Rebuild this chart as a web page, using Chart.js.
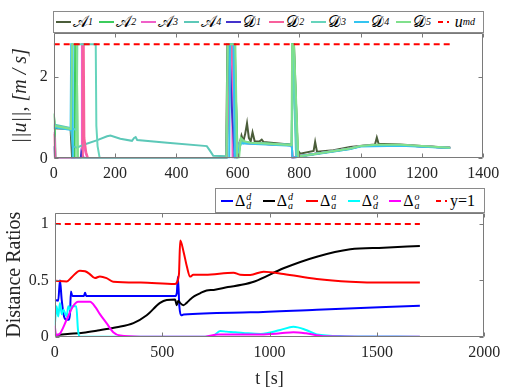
<!DOCTYPE html>
<html>
<head>
<meta charset="utf-8">
<script src="https://cdn.jsdelivr.net/npm/chart.js@4.4.1/dist/chart.umd.min.js"></script>
<style>
  body { margin: 0; background: #fff; }
  #wrap { position: relative; width: 509px; height: 388px; overflow: hidden; font-family: 'Liberation Serif', serif; }
  #c1 { position: absolute; left: 0; top: 0; }
  #c2 { position: absolute; left: 0; top: 190px; }
  .leg { position: absolute; background: #fff; border: 1px solid #8a8a8a; box-sizing: border-box; }
  .it { position: absolute; top: 0; height: 100%; display: flex; align-items: center; font-size: 15px; color: #000; white-space: nowrap; }
  .sw { display: inline-block; height: 2px; margin-right: 2px; }
  .it sub { font-size: 10px; vertical-align: -3px; font-style: italic; }
  .dl { display: inline-flex; align-items: center; font-size: 16px; }
  .ss { display: inline-flex; flex-direction: column; font-size: 10px; line-height: 9px; font-style: italic; margin-left: 1px; }
</style>
</head>
<body>
<div id="wrap">
  <canvas id="c1" width="509" height="190"></canvas>
  <canvas id="c2" width="509" height="198"></canvas>
  <div class="leg" id="leg1" style="left:52.7px; top:10.7px; width:431px; height:22.6px;"></div>
  <div class="leg" id="leg2" style="left:215px; top:188.3px; width:270px; height:24.7px;"></div>
</div>
<script>
// ---- haut : vitesses ||u|| ----
const tA1 = [0, 55, 60, 562, 566, 590, 598, 606, 612, 618, 624, 630, 636, 642, 648, 655, 670, 678, 684, 700, 776, 778, 783, 795, 803, 847, 852, 858, 912, 966, 1021, 1047, 1053, 1059, 1075, 1129, 1200, 1292];
const uA1 = [0.74, 0.72, 0, 0, 2.8, 2.8, 0.1, 0.36, 0.56, 0.42, 0.6, 0.86, 0.5, 0.42, 0.64, 0.42, 0.41, 0.46, 0.4, 0.39, 0.33, 2.8, 2.8, 0.2, 0.115, 0.18, 0.4, 0.16, 0.2, 0.28, 0.32, 0.34, 0.51, 0.35, 0.35, 0.34, 0.3, 0.26];
const tA2 = [0, 3, 6, 68, 70, 75, 78, 563, 574, 588, 600, 610, 640, 776, 778, 782, 796, 800, 966, 1000, 1130, 1292];
const uA2 = [1.1, 0.9, 0, 0, 2.8, 2.8, 0, 0, 2.8, 2.8, 0, 0.42, 0.38, 0.33, 2.8, 2.8, 0.05, 0.05, 0.24, 0.3, 0.32, 0.26];
const tA3 = [0, 3, 6, 90, 92, 95, 97, 100, 105, 110, 563, 571, 580, 583, 606, 640, 776, 778, 800, 966, 1000, 1130, 1292];
const uA3 = [0.65, 0.5, 0, 0, 2.8, 2.8, 0.4, 0.25, 0.1, 0, 0, 2.8, 2.8, 0, 0.38, 0.37, 0.32, 0, 0.05, 0.24, 0.3, 0.32, 0.26];
const tA4 = [0, 56, 62, 75, 100, 140, 174, 185, 217, 255, 262, 267, 272, 370, 499, 508, 520, 565, 569, 589, 596, 606, 640, 776, 778, 790, 800, 966, 1000, 1130, 1292];
const uA4 = [0.83, 0.74, 0.3, 0.26, 0.34, 0.44, 0.54, 0.56, 0.48, 0.43, 0.5, 0.52, 0.45, 0.38, 0.3, 0.2, 0.06, 0.05, 2.8, 2.8, 0, 0.38, 0.37, 0.32, 2.8, 0.03, 0.04, 0.23, 0.3, 0.32, 0.25];
const tD1 = [0, 4, 88, 90, 95, 100, 563, 572, 580, 584, 590, 606, 640, 776, 778, 800, 966, 1000, 1130, 1292];
const uD1 = [0.3, 0, 0, 0.15, 0.05, 0, 0, 2.8, 1.3, 0.8, 0, 0.38, 0.37, 0.32, 0, 0.05, 0.24, 0.3, 0.32, 0.26];
const tD2 = [0, 4, 93, 95, 98, 100, 106, 112, 563, 578, 582, 593, 598, 606, 640, 776, 778, 800, 966, 1000, 1130, 1292];
const uD2 = [0.6, 0, 0, 2.8, 2.8, 0.5, 0.15, 0, 0, 2.8, 2.8, 0.4, 0, 0.38, 0.37, 0.32, 0, 0.05, 0.24, 0.3, 0.32, 0.26];
const tD3 = [0, 56, 75, 77, 137, 139, 143, 150, 563, 568, 588, 595, 606, 640, 776, 778, 792, 800, 966, 1000, 1130, 1292];
const uD3 = [0.8, 0.73, 0.7, 2.8, 2.8, 0.8, 0.3, 0, 0, 2.8, 2.8, 0, 0.4, 0.38, 0.33, 2.8, 0.03, 0.05, 0.24, 0.3, 0.32, 0.26];
const tD4 = [0, 55, 57, 60, 62, 572, 575, 586, 590, 596, 610, 640, 776, 778, 800, 966, 1000, 1130, 1292];
const uD4 = [0.76, 0.7, 2.8, 2.8, 0, 0, 2.8, 2.8, 0, 0, 0.37, 0.36, 0.31, 0, 0.05, 0.23, 0.29, 0.31, 0.25];
const tD5 = [0, 56, 60, 75, 78, 563, 567, 592, 598, 604, 610, 620, 640, 700, 775, 777, 783, 797, 803, 966, 1000, 1050, 1130, 1200, 1292];
const uD5 = [0.8, 0.72, 2.8, 2.8, 0, 0, 2.8, 2.8, 0, 0, 0.5, 0.42, 0.38, 0.36, 0.32, 2.8, 2.8, 0.05, 0.05, 0.24, 0.3, 0.33, 0.33, 0.3, 0.26];
const tUmd = [0, 1300];
const uUmd = [2.8, 2.8];

// ---- bas : ratios de distance ----
const tDdd = [0, 16, 24, 32, 43, 55, 63, 71, 75, 82, 135, 141, 147, 560, 568, 573, 580, 588, 600, 910, 1220, 1700];
const rDdd = [0.326, 0.32, 0.5, 0.33, 0.18, 0.15, 0.15, 0.21, 0.4, 0.36, 0.36, 0.39, 0.36, 0.36, 0.385, 0.53, 0.27, 0.19, 0.196, 0.216, 0.24, 0.275];
const tDad = [0, 60, 132, 200, 288, 366, 428, 490, 521, 560, 568, 575, 583, 599, 614, 630, 650, 676, 707, 740, 806, 870, 930, 1065, 1220, 1376, 1531, 1700];
const rDad = [0.015, 0.025, 0.036, 0.055, 0.083, 0.12, 0.19, 0.3, 0.326, 0.33, 0.28, 0.32, 0.3, 0.28, 0.3, 0.33, 0.36, 0.385, 0.41, 0.415, 0.44, 0.46, 0.49, 0.607, 0.71, 0.776, 0.79, 0.805];
const tDaa = [0, 55, 80, 117, 141, 160, 187, 210, 241, 272, 400, 560, 578, 584, 600, 615, 630, 645, 700, 832, 863, 910, 972, 1065, 1220, 1376, 1531, 1700];
const rDaa = [0.497, 0.49, 0.53, 0.586, 0.58, 0.56, 0.52, 0.535, 0.52, 0.488, 0.48, 0.468, 0.55, 0.853, 0.75, 0.622, 0.533, 0.55, 0.55, 0.568, 0.55, 0.548, 0.577, 0.557, 0.512, 0.488, 0.48, 0.48];
const tDdo = [0, 8, 16, 24, 32, 40, 55, 63, 71, 78, 100, 108, 116, 700, 740, 770, 800, 840, 900, 960, 1050, 1111, 1170, 1220, 1350, 1700];
const rDdo = [0.1, 0.27, 0.18, 0.3, 0.2, 0.24, 0.18, 0.27, 0.24, 0.27, 0.27, 0.06, 0, 0, 0.01, 0.05, 0.045, 0.04, 0.03, 0.025, 0.06, 0.088, 0.06, 0.02, 0.005, 0];
const tDao = [0, 4, 8, 20, 55, 85, 109, 164, 190, 210, 241, 272, 304, 400, 700, 760, 830, 960, 1050, 1111, 1170, 1250, 1700];
const rDao = [0.1, 0.03, 0.015, 0.02, 0.15, 0.27, 0.31, 0.31, 0.26, 0.2, 0.12, 0.04, 0.01, 0, 0, 0.02, 0.02, 0.02, 0.03, 0.04, 0.03, 0.005, 0];
const tRef = [0, 1700];
const rRef = [1, 1];

const xTicks1 = { min: 0, max: 1400, step: 200 };
const xTicks2 = { min: 0, max: 2000, step: 500 };

const pts = (t, v) => t.map((x, i) => ({ x: x, y: v[i] }));
const SERIF = "'Liberation Serif', serif";
const ink = '#262626';

// cadre + graduations intérieures sur les quatre côtés
const frame = {
  id: 'frame',
  afterDatasetsDraw(chart) {
    const { ctx, chartArea: a, scales } = chart;
    const L = Math.round(a.left) + 0.5, R = Math.round(a.right) - 0.5;
    const T = Math.round(a.top) + 0.5, B = Math.round(a.bottom) - 0.5;
    ctx.save();
    ctx.strokeStyle = '#7a7a7a';
    ctx.lineWidth = 1;
    ctx.beginPath();
    ctx.rect(L, T, R - L, B - T);
    scales.x.ticks.forEach(tk => {
      const p = Math.round(scales.x.getPixelForValue(tk.value)) + 0.5;
      ctx.moveTo(p, B); ctx.lineTo(p, B - 4);
      ctx.moveTo(p, T); ctx.lineTo(p, T + 4);
    });
    scales.y.ticks.forEach(tk => {
      const p = Math.round(scales.y.getPixelForValue(tk.value)) + 0.5;
      ctx.moveTo(L, p); ctx.lineTo(L + 4, p);
      ctx.moveTo(R, p); ctx.lineTo(R - 4, p);
    });
    ctx.stroke();
    ctx.restore();
  }
};

function axes(xr, ymax, ystep, yw, xh, ytitle, xtitle, ytPad) {
  return {
    x: {
      type: 'linear', min: xr.min, max: xr.max,
      afterFit: s => { s.height = xh; },
      grid: { display: false, drawTicks: false }, border: { display: false },
      ticks: { stepSize: xr.step, padding: 6, maxRotation: 0, color: ink, font: { family: SERIF, size: 16 }, callback: v => String(v) },
      title: xtitle ? { display: true, text: xtitle, color: ink, font: { family: SERIF, size: 18, lineHeight: 1 }, padding: 0 } : { display: false }
    },
    y: {
      min: 0, max: ymax,
      afterFit: s => { s.width = yw; },
      grid: { display: false, drawTicks: false }, border: { display: false },
      ticks: { stepSize: ystep, includeBounds: false, padding: 6, color: ink, font: { family: SERIF, size: 16 }, callback: v => String(v) },
      title: { display: true, text: ytitle.text, color: ink, font: { family: SERIF, size: 20, style: ytitle.style, lineHeight: 1.2 }, padding: { top: ytPad, bottom: 0 } }
    }
  };
}

const topSeries = [
  { label: '<span>𝒜</span><sub>1</sub>', t: tA1, v: uA1, color: '#4b5d3a' },
  { label: '<span>𝒜</span><sub>2</sub>', t: tA2, v: uA2, color: '#3ccc5c' },
  { label: '<span>𝒜</span><sub>3</sub>', t: tA3, v: uA3, color: '#f060c8' },
  { label: '<span>𝒜</span><sub>4</sub>', t: tA4, v: uA4, color: '#5cc8b8' },
  { label: '<span>𝒟</span><sub>1</sub>', t: tD1, v: uD1, color: '#4433cc' },
  { label: '<span>𝒟</span><sub>2</sub>', t: tD2, v: uD2, color: '#f8609c' },
  { label: '<span>𝒟</span><sub>3</sub>', t: tD3, v: uD3, color: '#66d4bc' },
  { label: '<span>𝒟</span><sub>4</sub>', t: tD4, v: uD4, color: '#33c4f0' },
  { label: '<span>𝒟</span><sub>5</sub>', t: tD5, v: uD5, color: '#80e08c' },
  { label: '<i>u</i><sub>md</sub>', t: tUmd, v: uUmd, color: '#ff0000', dash: true }
];

const bottomSeries = [
  { label: 'Δ<span class="ss"><span>d</span><span>d</span></span>', t: tDdd, v: rDdd, color: '#0000ff' },
  { label: 'Δ<span class="ss"><span>d</span><span>a</span></span>', t: tDad, v: rDad, color: '#000000' },
  { label: 'Δ<span class="ss"><span>a</span><span>a</span></span>', t: tDaa, v: rDaa, color: '#ff0000' },
  { label: 'Δ<span class="ss"><span>o</span><span>d</span></span>', t: tDdo, v: rDdo, color: '#00ffff' },
  { label: 'Δ<span class="ss"><span>o</span><span>a</span></span>', t: tDao, v: rDao, color: '#ff00ff' },
  { label: 'y=1', t: tRef, v: rRef, color: '#ff0000', dash: true }
];

function toDatasets(series, smooth) {
  const n = series.length;
  return series.map((s, i) => ({
    data: pts(s.t, s.v),
    borderColor: s.color,
    borderWidth: 2,
    borderDash: s.dash ? [6, 4] : [],
    pointRadius: 0,
    fill: false,
    cubicInterpolationMode: smooth && !s.dash ? 'monotone' : 'default',
    order: n - i
  }));
}

const common = {
  responsive: false,
  animation: false,
  plugins: { legend: { display: false }, tooltip: { enabled: false } },
  elements: { line: { tension: 0 } }
};

// légendes HTML (indices et exposants)
function buildLegend(boxId, series, xs, swW) {
  const box = document.getElementById(boxId);
  series.forEach((s, i) => {
    const d = document.createElement('div');
    d.className = 'it';
    d.style.left = xs[i] + 'px';
    const sw = document.createElement('span');
    sw.className = 'sw';
    sw.style.width = swW + 'px';
    sw.style.background = s.dash
      ? 'linear-gradient(to right, ' + s.color + ' 0 5px, transparent 5px 9px, ' + s.color + ' 9px 11px, transparent 11px)'
      : s.color;
    d.appendChild(sw);
    const tx = document.createElement('span');
    tx.className = 'dl';
    tx.innerHTML = s.label;
    d.appendChild(tx);
    box.appendChild(d);
  });
}
buildLegend('leg1', topSeries, [2.3, 45.6, 87.3, 130.6, 172.3, 215.6, 257.3, 300.6, 342.3, 384], 15);
buildLegend('leg2', bottomSeries, [5, 46.7, 90, 131.7, 173.3, 220], 12);

Chart.defaults.font.family = SERIF;
Chart.defaults.color = ink;

new Chart(document.getElementById('c1'), {
  type: 'line',
  data: { datasets: toDatasets(topSeries, false) },
  options: Object.assign({}, common, {
    layout: { padding: { top: 33.3, right: 25.7, left: 0, bottom: 0 } },
    scales: axes(xTicks1, 3.07, 2, 53.7, 31.7, { text: '||u||, [m / s]', style: 'italic' }, null, 9)
  }),
  plugins: [frame]
});

new Chart(document.getElementById('c2'), {
  type: 'line',
  data: { datasets: toDatasets(bottomSeries, true) },
  options: Object.assign({}, common, {
    layout: { padding: { top: 22.7, right: 24.7, left: 0, bottom: 0 } },
    scales: axes(xTicks2, 1.1, 0.5, 54.8, 51.3, { text: 'Distance Ratios', style: 'normal' }, 't [s]', 3)
  }),
  plugins: [frame]
});
</script>
</body>
</html>
